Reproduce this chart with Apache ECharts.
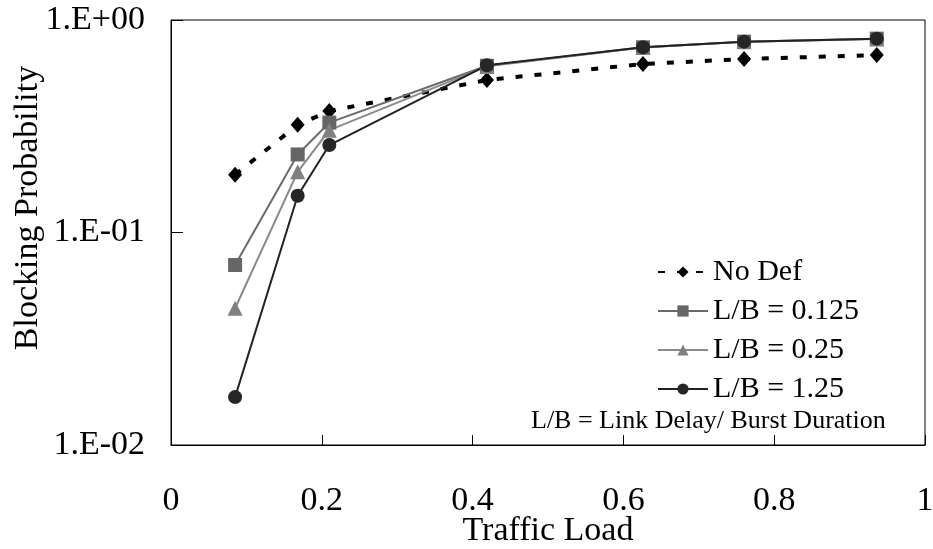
<!DOCTYPE html>
<html>
<head>
<meta charset="utf-8">
<script src="https://cdn.jsdelivr.net/npm/echarts@6/dist/echarts.min.js"></script>
<style>
  html, body { margin: 0; padding: 0; background: #fff; }
  #chart { width: 933px; height: 549px; }
</style>
</head>
<body>
<div id="chart"></div>
<script>
// traffic load (x) and blocking probability per scheme
let loads = [0.085, 0.168, 0.21, 0.419, 0.626, 0.76, 0.936];
let noDef = [0.187, 0.321, 0.373, 0.522, 0.621, 0.655, 0.684];
let lb0125 = [0.0703, 0.233, 0.329, 0.609, 0.744, 0.791, 0.817];
let lb025 = [0.044, 0.193, 0.303, 0.605, 0.742, 0.79, 0.815];
let lb125 = [0.0168, 0.149, 0.258, 0.612, 0.744, 0.791, 0.817];
let names = ['No Def', 'L/B = 0.125', 'L/B = 0.25', 'L/B = 1.25'];

function pairs(ys) {
    return loads.map(function (x, i) { return [x, ys[i]]; });
}

const FONT = '"Liberation Serif", "Times New Roman", serif';

/* 初始化 */
let chart = echarts.init(document.getElementById('chart'));
let option = {
    animation: false,
    backgroundColor: '#fff',
    textStyle: {fontFamily: FONT, color: '#000'},
    grid: {
        left: 171, right: 8, top: 20, bottom: 104,
        outerBoundsMode: 'none', containLabel: false,
        show: true, borderColor: '#000', borderWidth: 1
    },
    legend: {
        orient: 'vertical',
        left: 652, top: 252,
        itemWidth: 50, itemHeight: 14, itemGap: 9,
        textStyle: {fontFamily: FONT, fontSize: 30, color: '#000'},
        data: names
    },
    graphic: [
        {
            type: 'text',
            left: 531, top: 408,
            style: {text: 'L/B = Link Delay/ Burst Duration', font: '26px ' + FONT, fill: '#000'}
        },
        {
            type: 'text',
            x: 28, y: 208, rotation: Math.PI / 2,
            style: {
                text: 'Blocking Probability', font: '34px ' + FONT, fill: '#000',
                align: 'center', verticalAlign: 'middle'
            }
        }
    ],
    xAxis: {
        type: 'value', min: 0, max: 1, interval: 0.2,
        name: 'Traffic Load', nameLocation: 'middle', nameGap: 69,
        nameMoveOverlap: false,
        nameTextStyle: {fontFamily: FONT, fontSize: 34, color: '#000'},
        axisLine: {lineStyle: {color: '#000', width: 1}},
        axisTick: {inside: true, length: 10, lineStyle: {color: '#000'}},
        axisLabel: {fontFamily: FONT, fontSize: 34, color: '#000', margin: 39},
        splitLine: {show: false}
    },
    yAxis: {
        type: 'log', logBase: 10, min: 0.01, max: 1,
        axisLine: {lineStyle: {color: '#000', width: 1}},
        axisTick: {inside: true, length: 12, lineStyle: {color: '#000'}},
        axisLabel: {
            fontFamily: FONT, fontSize: 34, color: '#000', margin: 26,
            formatter: function (v) {
                let e = Math.round(Math.log10(v));
                return '1.E' + (e >= 0 ? '+' : '-') + String(Math.abs(e)).padStart(2, '0');
            }
        },
        splitLine: {show: false},
        minorTick: {show: false}
    },
    series: [
        {
            name: names[0], type: 'line', data: pairs(noDef),
            symbol: 'diamond', symbolSize: [14, 16],
            lineStyle: {color: '#000', width: 4, type: [7, 12]},
            itemStyle: {color: '#000'}
        },
        {
            name: names[1], type: 'line', data: pairs(lb0125),
            symbol: 'rect', symbolSize: 14,
            lineStyle: {color: '#6a6a6a', width: 2},
            itemStyle: {color: '#666'}
        },
        {
            name: names[2], type: 'line', data: pairs(lb025),
            symbol: 'triangle', symbolSize: 15,
            lineStyle: {color: '#8a8a8a', width: 2},
            itemStyle: {color: '#808080'}
        },
        {
            name: names[3], type: 'line', data: pairs(lb125),
            symbol: 'circle', symbolSize: 14,
            lineStyle: {color: '#222', width: 2},
            itemStyle: {color: '#262626'}
        }
    ]
};
chart.setOption(option);
</script>
</body>
</html>
